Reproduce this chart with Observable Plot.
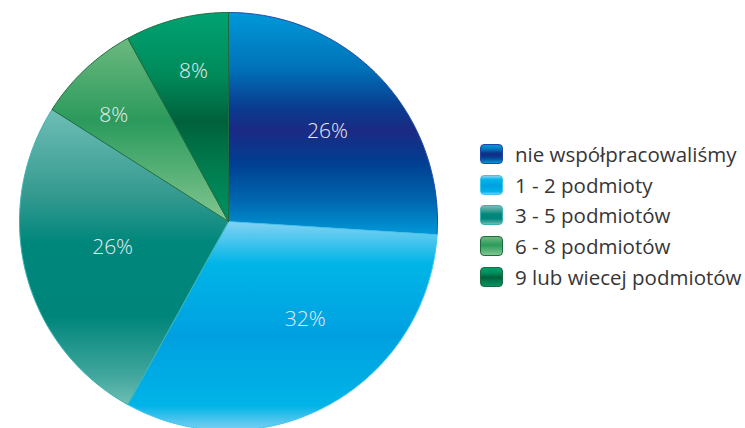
<!DOCTYPE html>
<html><head><meta charset="utf-8">
<script src="https://cdn.jsdelivr.net/npm/d3@7"></script>
<script src="https://cdn.jsdelivr.net/npm/@observablehq/plot@0.6"></script>
<style>
body{margin:0;background:#fff;font-family:"Open Sans",sans-serif;}
#wrap{position:relative;width:745px;height:428px;overflow:hidden}
#legend{position:absolute;left:480px;top:139px}
.row{display:flex;align-items:center;height:30.6px;font-size:20.5px;color:#363636;white-space:nowrap}
.sw{width:23px;height:20px;border-radius:4px;margin-right:12px;box-sizing:border-box;border:1px solid;flex:none}
</style></head>
<body><div id="wrap"><div id="chart"></div><div id="legend"></div></div>
<script>
const categories = ["nie współpracowaliśmy", "1 - 2 podmioty", "3 - 5 podmiotów", "6 - 8 podmiotów", "9 lub wiecej podmiotów"];
const values = [26, 32, 26, 8, 8];
const labels = ["26%", "32%", "26%", "8%", "8%"];

// styles
const gradients = [
  [[0,"#0099d8"],[0.25,"#0072b9"],[0.43,"#0a3b8e"],[0.53,"#1b2a84"],[0.68,"#003f91"],[0.85,"#0068b0"],[1,"#0098d8"]],
  [[0,"#84d2f3"],[0.2,"#00b5e7"],[0.55,"#00a0e0"],[0.88,"#00b4e7"],[1,"#7fd0f2"]],
  [[0,"#6fbeb6"],[0.3,"#32988e"],[0.45,"#00877c"],[0.7,"#00857a"],[0.9,"#40a69d"],[1,"#6fbeb4"]],
  [[0,"#6cb97f"],[0.45,"#2b9a5c"],[1,"#82c690"]],
  [[0,"#00a272"],[0.3,"#008a5a"],[0.52,"#00613c"],[0.75,"#007d4f"],[1,"#009262"]]
];
const strokes = ["#1f48a8", "#3cc6ec", "#3ab3b0", "#1d6b3e", "#1d6b3e"];
// label placement: fraction along slice angle, fraction of radius
const labelAlong = [0.51, 0.42, 0.52, 0.365, 0.545];
const labelRadius = [0.64, 0.596, 0.568, 0.75, 0.737];

const arcs = d3.pie().sort(null)(values);
const slices = arcs.map((a, i) => {
  const n = Math.max(2, Math.ceil((a.endAngle - a.startAngle) / 0.01));
  const pts = [{x: 0, y: 0}];
  for (let k = 0; k <= n; k++) {
    const t = a.startAngle + (a.endAngle - a.startAngle) * k / n;
    pts.push({x: Math.sin(t), y: Math.cos(t)});
  }
  pts.push({x: 0, y: 0});
  return pts;
});
const labelData = arcs.map((a, i) => {
  const m = a.startAngle + (a.endAngle - a.startAngle) * labelAlong[i];
  const rr = labelRadius[i];
  return {x: rr * Math.sin(m), y: rr * Math.cos(m), text: labels[i]};
});

const cx = 228, cy = 221, R = 209;
const plot = Plot.plot({
  width: 745, height: 428,
  x: {domain: [-1, 1], range: [cx - R, cx + R], axis: null},
  y: {domain: [-1, 1], range: [cy + R, cy - R], axis: null},
  marks: [
    ...slices.map((pts, i) => Plot.line(pts, {x: "x", y: "y", fill: `url(#grad${i})`, stroke: strokes[i], strokeWidth: 1})),
    Plot.text(labelData, {x: "x", y: "y", text: "text", fill: "#e6edf2", fontSize: 21, fontWeight: 300, fontFamily: "Open Sans"})
  ]
});
const ns = "http://www.w3.org/2000/svg";
const defs = document.createElementNS(ns, "defs");
gradients.forEach((stops, i) => {
  const g = document.createElementNS(ns, "linearGradient");
  g.setAttribute("id", `grad${i}`);
  g.setAttribute("x1", 0); g.setAttribute("y1", 0); g.setAttribute("x2", 0); g.setAttribute("y2", 1);
  stops.forEach(([o, c]) => {
    const s = document.createElementNS(ns, "stop");
    s.setAttribute("offset", o); s.setAttribute("stop-color", c);
    g.appendChild(s);
  });
  defs.appendChild(g);
});
plot.insertBefore(defs, plot.firstChild);
document.getElementById("chart").appendChild(plot);

const legend = document.getElementById("legend");
categories.forEach((c, i) => {
  const row = document.createElement("div"); row.className = "row";
  const sw = document.createElement("div"); sw.className = "sw";
  sw.style.background = `linear-gradient(to bottom, ${gradients[i].map(([o, col]) => `${col} ${o * 100}%`).join(",")})`;
  sw.style.borderColor = strokes[i];
  const t = document.createElement("span"); t.textContent = c;
  row.appendChild(sw); row.appendChild(t); legend.appendChild(row);
});
</script>
</body></html>
